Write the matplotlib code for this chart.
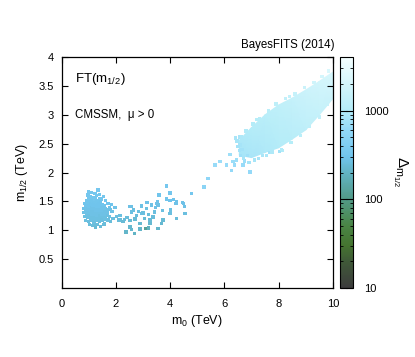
import matplotlib
matplotlib.use('Agg')
import matplotlib.pyplot as plt
from matplotlib.colors import LinearSegmentedColormap, LogNorm
import numpy as np

plt.rcParams['font.family'] = ['Liberation Sans', 'DejaVu Sans']
plt.rcParams['mathtext.fontset'] = 'custom'
plt.rcParams['mathtext.rm'] = 'Liberation Sans'
plt.rcParams['mathtext.it'] = 'Liberation Sans'

# low m0 cluster: (m0, m1/2, FT)
cluster_pts = [
    (1.10, 1.66, 330), (1.34, 1.70, 340), (1.22, 1.64, 330), (0.98, 1.67, 330),
    (0.97, 1.61, 320), (1.05, 1.58, 320), (1.28, 1.60, 330), (1.53, 1.59, 340), (1.40, 1.62, 330), (1.15, 1.57, 320),
    (0.90, 1.52, 310), (1.00, 1.54, 320), (1.12, 1.51, 310), (1.20, 1.53, 320), (1.31, 1.50, 310), (1.45, 1.54, 320),
    (1.62, 1.52, 320), (1.38, 1.55, 320), (1.06, 1.50, 310), (1.25, 1.57, 320),
    (0.85, 1.46, 300), (0.95, 1.44, 300), (1.03, 1.47, 300), (1.10, 1.43, 300), (1.18, 1.46, 300), (1.26, 1.44, 300),
    (1.35, 1.47, 300), (1.48, 1.45, 300), (1.57, 1.43, 300), (1.83, 1.45, 300), (1.70, 1.47, 300),
    (0.82, 1.38, 290), (0.90, 1.40, 290), (0.98, 1.37, 290), (1.06, 1.39, 290), (1.14, 1.36, 290), (1.22, 1.40, 290),
    (1.30, 1.37, 290), (1.40, 1.39, 290), (1.50, 1.36, 290), (1.62, 1.38, 290), (1.75, 1.40, 290), (1.96, 1.40, 290),
    (0.88, 1.34, 280), (1.68, 1.35, 280), (1.80, 1.36, 280),
    (0.80, 1.31, 280), (0.92, 1.29, 280), (1.00, 1.32, 280), (1.08, 1.30, 280), (1.17, 1.33, 280), (1.25, 1.29, 280),
    (1.33, 1.31, 280), (1.44, 1.30, 280), (1.55, 1.32, 280), (1.68, 1.29, 280), (1.85, 1.33, 280),
    (0.85, 1.24, 270), (0.95, 1.22, 270), (1.04, 1.25, 270), (1.12, 1.23, 270), (1.21, 1.26, 270), (1.30, 1.22, 270),
    (1.40, 1.25, 270), (1.52, 1.23, 270), (1.63, 1.26, 270), (1.89, 1.21, 260), (1.75, 1.24, 270),
    (0.88, 1.17, 260), (0.98, 1.15, 260), (1.08, 1.18, 260), (1.18, 1.14, 260), (1.28, 1.17, 260), (1.38, 1.15, 260),
    (1.48, 1.18, 260), (1.58, 1.12, 250), (1.70, 1.18, 260), (1.80, 1.15, 250),
    (1.02, 1.10, 250), (1.15, 1.08, 250), (1.30, 1.10, 250), (1.42, 1.07, 250), (1.55, 1.10, 250), (1.25, 1.05, 240),
    (1.00, 1.42, 300), (1.12, 1.40, 290), (1.24, 1.35, 290), (1.05, 1.28, 280), (1.16, 1.27, 280), (0.94, 1.30, 280),
    (1.36, 1.42, 300), (1.20, 1.48, 310), (1.28, 1.52, 310), (1.08, 1.35, 290), (0.95, 1.49, 310), (1.45, 1.34, 290),
    (0.90, 1.36, 290), (1.02, 1.36, 290), (1.18, 1.38, 290), (1.34, 1.34, 290), (1.12, 1.32, 280), (1.28, 1.26, 280),
    (0.98, 1.26, 270), (1.10, 1.20, 270), (1.22, 1.20, 270), (1.35, 1.20, 270), (1.46, 1.27, 280), (1.58, 1.28, 280),
    (1.52, 1.40, 290), (1.42, 1.50, 300), (1.15, 1.44, 300), (1.30, 1.41, 300), (0.88, 1.43, 300), (1.60, 1.20, 270),
]

# sparse points between 2 and 5 TeV
tail_pts = [
    (2.02, 1.24, 260), (2.14, 1.26, 260), (2.08, 1.18, 250), (2.15, 1.18, 250), (2.26, 1.15, 240), (2.32, 1.19, 250),
    (2.40, 1.22, 250), (2.51, 1.17, 240), (2.57, 1.41, 280), (2.57, 1.32, 270), (2.52, 1.41, 280), (2.69, 0.95, 200),
    (2.39, 0.98, 210), (2.37, 0.97, 210), (2.51, 1.06, 220), (2.58, 1.01, 220), (2.76, 1.26, 250), (2.88, 1.12, 230),
    (2.88, 1.02, 210), (2.94, 1.29, 260), (3.06, 1.21, 240), (3.12, 1.38, 270), (3.15, 1.48, 290), (3.25, 1.18, 240),
    (3.25, 1.12, 230), (3.31, 1.44, 280), (3.37, 1.23, 250), (3.43, 1.32, 260), (3.49, 1.47, 290), (3.52, 1.49, 290),
    (3.55, 1.44, 280), (3.59, 1.61, 310), (3.55, 1.03, 210), (3.68, 1.12, 230), (3.74, 1.18, 240), (3.71, 1.34, 270),
    (3.86, 1.54, 300), (3.86, 1.77, 340), (3.99, 1.52, 300), (3.99, 1.65, 320), (3.99, 1.29, 260), (4.02, 1.35, 270),
    (4.23, 1.49, 290), (4.23, 1.21, 250), (4.48, 1.47, 290), (4.54, 1.29, 260), (4.79, 1.64, 330), (3.00, 1.30, 260),
    (2.82, 1.33, 260), (2.70, 1.20, 240), (2.65, 1.35, 270), (3.20, 1.27, 250), (3.45, 1.40, 280), (2.95, 1.42, 280),
    (3.10, 1.03, 120), (3.19, 1.04, 190), (4.45, 1.48, 290), (4.53, 1.41, 280), (4.11, 1.53, 300), (4.21, 1.46, 290),
]

# sparse points between 5 and 7 TeV
mid_pts = [
    (5.25, 1.75, 520), (5.40, 1.90, 560), (5.65, 2.13, 650), (5.83, 2.19, 680), (6.08, 2.13, 650), (6.20, 2.31, 720),
    (6.26, 2.04, 620), (6.32, 2.19, 680), (6.45, 2.22, 700), (6.94, 2.01, 620), (6.38, 2.13, 650), (6.69, 2.13, 650),
    (6.47, 2.55, 820), (6.57, 2.48, 800), (7.68, 2.35, 760), (8.04, 2.37, 770), (6.60, 2.30, 740), (6.75, 2.20, 700),
    (6.55, 2.38, 760), (6.85, 2.30, 740), (6.50, 2.45, 780), (6.65, 2.40, 770), (6.40, 2.60, 840), (6.58, 2.62, 850),
]

# dense band: cross sections at m0 with lower/upper m1/2 and FT at both edges
band_m0 = [6.55, 7.0, 7.5, 8.0, 8.5, 9.0, 9.5, 10.0]
band_lo = [2.30, 2.26, 2.35, 2.43, 2.58, 2.74, 3.00, 3.28]
band_hi = [2.56, 2.78, 3.00, 3.17, 3.29, 3.43, 3.58, 3.74]
band_ft_lo = [820, 850, 920, 1000, 1100, 1220, 1400, 1600]
band_ft_hi = [900, 1050, 1150, 1300, 1450, 1650, 1900, 2200]

# scattered points around the band edges
edge_pts = [
    (6.62, 2.62, 900), (6.80, 2.72, 950), (7.05, 2.84, 1000), (7.30, 2.94, 1080), (7.62, 3.07, 1150),
    (7.90, 3.19, 1220), (8.25, 3.28, 1350), (8.60, 3.36, 1450), (8.95, 3.47, 1600), (9.30, 3.56, 1800),
    (9.60, 3.66, 2000), (9.85, 3.76, 2200), (8.40, 3.32, 1400), (7.20, 2.92, 1050),
    (7.10, 2.22, 820), (7.40, 2.30, 860), (7.75, 2.36, 920), (8.10, 2.40, 960), (8.45, 2.52, 1050),
    (8.80, 2.64, 1120), (9.15, 2.80, 1250), (9.50, 2.96, 1350), (9.80, 3.18, 1500), (7.25, 2.24, 840),
    (6.70, 2.25, 800), (6.90, 2.18, 800), (8.15, 2.38, 960), (7.55, 2.30, 880),
]

colors = ['#3c3c3c', '#3f5a38', '#457430', '#4a8545', '#529a88', '#62b4c4',
          '#70c4ec', '#92d8f8', '#b4ecf8', '#f4ffff']
stops = [0.0, 0.116, 0.183, 0.269, 0.384, 0.500, 0.568, 0.684, 0.769, 1.0]
cmap = LinearSegmentedColormap.from_list('ft', list(zip(stops, colors)))
norm = LogNorm(vmin=10, vmax=4000)

fig = plt.figure(figsize=(4.15, 3.57), dpi=100)
ax = fig.add_axes([0.149, 0.193, 0.653, 0.647])
cax = fig.add_axes([0.819, 0.193, 0.032, 0.647])

X = np.array([band_m0, band_m0])
Y = np.array([band_lo, band_hi])
C = np.array([band_ft_lo, band_ft_hi])
ax.pcolormesh(X, Y, C, shading='gouraud', cmap=cmap, norm=norm, zorder=1)

pts = np.array(cluster_pts + tail_pts + mid_pts + edge_pts)
sc = ax.scatter(pts[:, 0], pts[:, 1], c=pts[:, 2], cmap=cmap, norm=norm,
                s=6, marker='s', linewidths=0, zorder=2)

ax.set_xlim(0, 10)
ax.set_ylim(0, 4)
ax.set_xticks([0, 2, 4, 6, 8, 10])
ax.set_yticks([0.5, 1, 1.5, 2, 2.5, 3, 3.5, 4])
ax.set_yticklabels(['0.5', '1', '1.5', '2', '2.5', '3', '3.5', '4'])
ax.tick_params(direction='in', top=True, right=True, length=4, width=0.8, labelsize=8)
ax.tick_params(axis='x', pad=8)
ax.tick_params(axis='y', pad=6)
for s in ax.spines.values():
    s.set_linewidth(0.9)
ax.set_xlabel('m$_0$ (TeV)', fontsize=9, labelpad=3)
ax.set_ylabel('m$_{1/2}$ (TeV)', fontsize=9, labelpad=6)

ax.text(0.5, 3.62, 'FT(m$_{1/2}$)', fontsize=9.5, va='center')
ax.text(0.5, 3.0, 'CMSSM,  \u03bc > 0', fontsize=8.3, va='center')
fig.text(0.807, 0.874, 'BayesFITS (2014)', fontsize=8.3, ha='right', va='center')

cb = fig.colorbar(sc, cax=cax)
cb.set_ticks([10, 100, 1000])
cb.set_ticklabels(['10', '100', '1000'])
cb.outline.set_linewidth(0.8)
cax.tick_params(which='both', direction='in', left=True, right=True, labelsize=8, pad=8)
cax.tick_params(which='major', length=5, width=0.8)
cax.tick_params(which='minor', length=2.5, width=0.6)
fig.text(0.965, 0.52, '$\\Delta_{m_{1/2}}$', fontsize=11, rotation=-90, ha='center', va='center')

plt.savefig('out.png', dpi=100)
